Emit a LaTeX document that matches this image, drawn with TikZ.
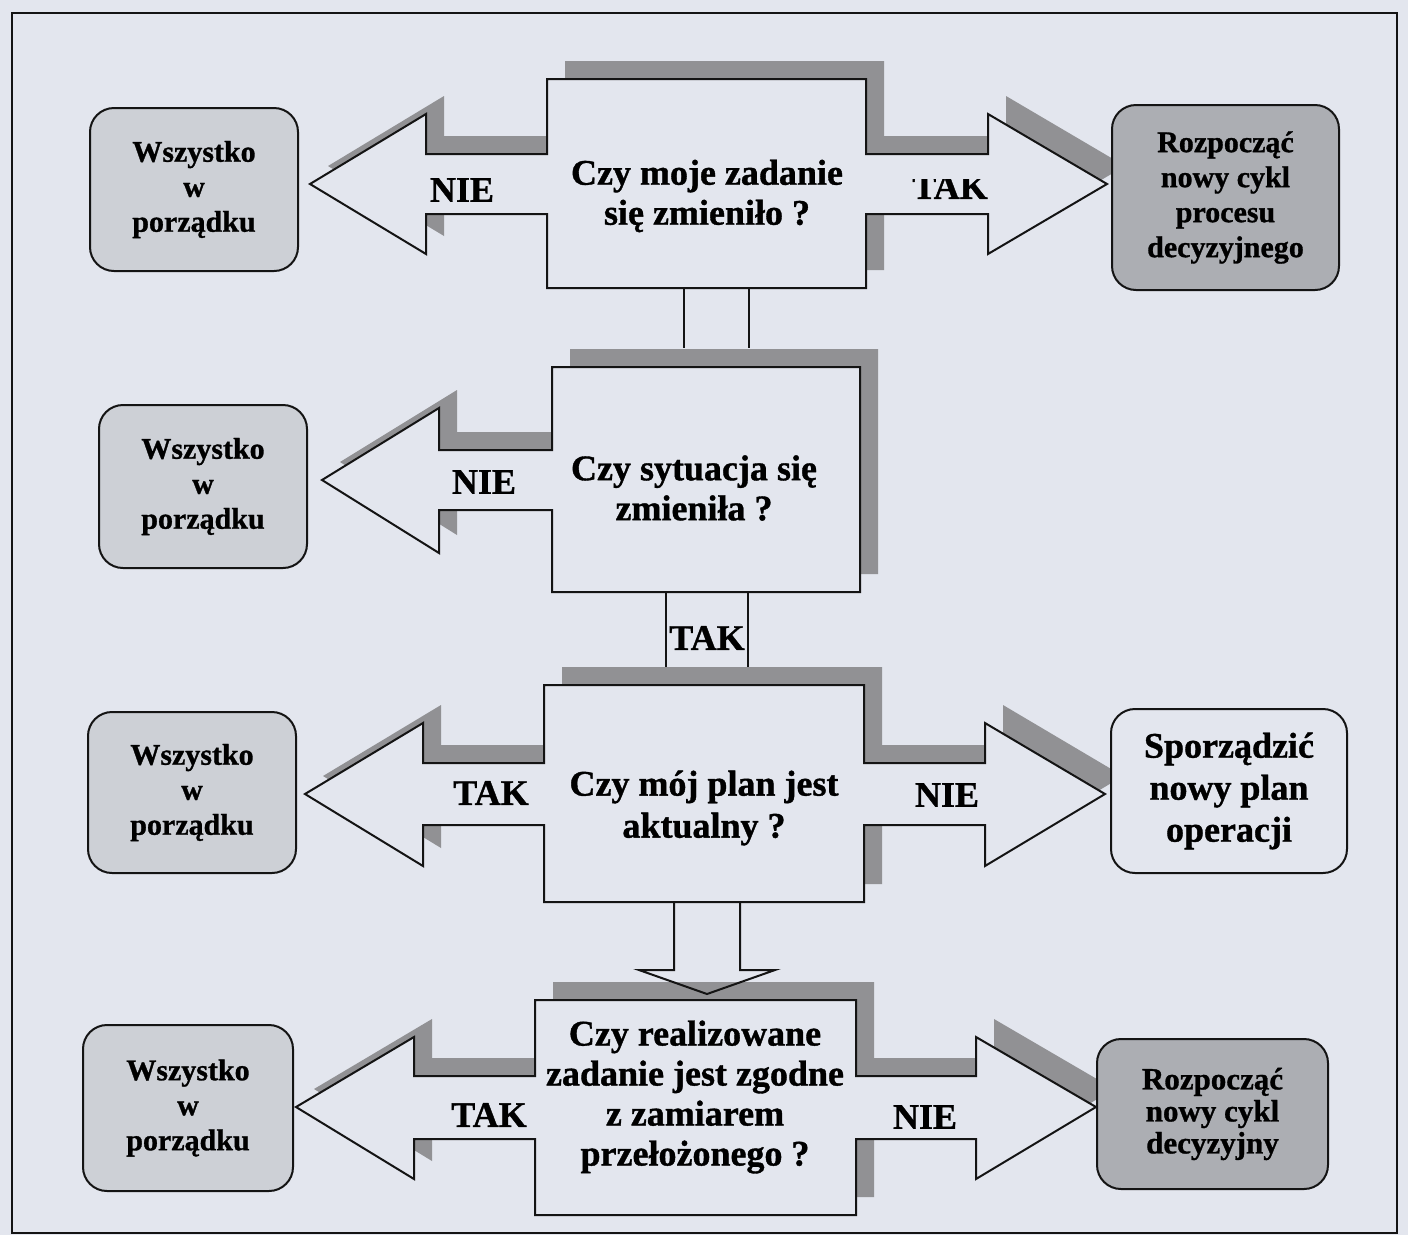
\documentclass[tikz,border=0pt]{standalone}
\usepackage{fontspec}
\setmainfont{Liberation Serif}[BoldFeatures={FakeBold=1}]
\begin{document}
\definecolor{paper}{RGB}{227,230,238}
\definecolor{ink}{RGB}{20,20,20}
\definecolor{shade}{RGB}{145,145,148}
\definecolor{okfill}{RGB}{205,208,214}
\definecolor{newfill}{RGB}{172,174,179}
\tikzset{
  shapeline/.style={draw=ink, line width=2pt, line join=miter, fill=paper},
  shadowfill/.style={fill=shade, shift={(18,-18)}},
  pipe/.style={draw=ink, line width=2pt},
  outcome/.style={draw=ink, line width=2pt, rounded corners=24pt, align=center,
    inner sep=0pt, font=\fontsize{30}{35}\selectfont\bfseries},
  question/.style={align=center, inner sep=0pt, font=\fontsize{36}{40}\selectfont\bfseries},
  answer/.style={inner sep=0pt, font=\fontsize{36}{40}\selectfont\bfseries},
}
% decision blocks: a box with block arrows
\newcommand\qone[1]{\path[#1] (547,79) -- (866,79) -- (866,154) -- (988,154) -- (988,114) -- (1107,184) -- (988,254) -- (988,214) -- (866,214) -- (866,288) -- (547,288) -- (547,214) -- (426,214) -- (426,254) -- (310,184) -- (426,114) -- (426,154) -- (547,154) -- cycle;}
\newcommand\qtwo[1]{\path[#1] (552,367) -- (860,367) -- (860,592) -- (552,592) -- (552,510) -- (439,510) -- (439,553) -- (322,480) -- (439,408) -- (439,450) -- (552,450) -- cycle;}
\newcommand\qthree[1]{\path[#1] (544,685) -- (864,685) -- (864,763) -- (985,763) -- (985,723) -- (1105,794) -- (985,866) -- (985,825) -- (864,825) -- (864,902) -- (544,902) -- (544,825) -- (423,825) -- (423,866) -- (305,794) -- (423,723) -- (423,763) -- (544,763) -- cycle;}
\newcommand\qfour[1]{\path[#1] (535,1000) -- (856,1000) -- (856,1076) -- (976,1076) -- (976,1037) -- (1096,1107) -- (976,1179) -- (976,1139) -- (856,1139) -- (856,1215) -- (535,1215) -- (535,1139) -- (414,1139) -- (414,1179) -- (296,1107) -- (414,1037) -- (414,1076) -- (535,1076) -- cycle;}
\begin{tikzpicture}[x=1pt, y=-1pt]
\useasboundingbox (0,0) rectangle (1408,1235);
\fill[paper] (0,0) rectangle (1408,1235);
\draw[ink, line width=2pt] (12,13) rectangle (1397,1233);

% pipes between the decision blocks
\coordinate (p1a) at (684,288); \coordinate (p1b) at (749,288);
\coordinate (p1c) at (684,348); \coordinate (p1d) at (749,348);
\coordinate (p2a) at (666,592); \coordinate (p2b) at (748,592);
\coordinate (p2c) at (666,667); \coordinate (p2d) at (748,667);
\draw[pipe] (p1a) -- (p1c); \draw[pipe] (p1b) -- (p1d);
\draw[pipe] (p2a) -- (p2c); \draw[pipe] (p2b) -- (p2d);

% shadows
\qone{shadowfill}
\qtwo{shadowfill}
\qthree{shadowfill}
\qfour{shadowfill}

% blocks
\qone{shapeline}
\qtwo{shapeline}
\qthree{shapeline}
\qfour{shapeline}

% downward block arrow into the last block
\coordinate (d1) at (674,902); \coordinate (d2) at (740,902);
\coordinate (dt) at (707,994);
\draw[ink, line width=2pt, line join=miter] (d1) -- (674,970) -- (639,970) -- (dt) -- (775,970) -- (740,970) -- (d2);

% outcomes
\node[outcome, fill=okfill, minimum width=208pt, minimum height=163pt] (ok1) at (194,189.5) {Wszystko\\w\\porządku};
\node[outcome, fill=okfill, minimum width=208pt, minimum height=163pt] (ok2) at (203,486.5) {Wszystko\\w\\porządku};
\node[outcome, fill=okfill, minimum width=208pt, minimum height=161pt] (ok3) at (192,792.5) {Wszystko\\w\\porządku};
\node[outcome, fill=okfill, minimum width=210pt, minimum height=166pt] (ok4) at (188,1108) {Wszystko\\w\\porządku};
\node[outcome, fill=newfill, minimum width=227pt, minimum height=185pt] (new1) at (1225.5,197.5) {Rozpocząć\\nowy cykl\\procesu\\decyzyjnego};
\node[outcome, fill=paper, minimum width=236pt, minimum height=164pt,
      font=\fontsize{36}{42}\selectfont\bfseries] (plan) at (1229,791) {Sporządzić\\nowy plan\\operacji};
\node[outcome, fill=newfill, minimum width=231pt, minimum height=150pt,
      font=\fontsize{31}{32}\selectfont\bfseries] (new2) at (1212.5,1114) {Rozpocząć\\nowy cykl\\decyzyjny};

% questions
\node[question] (q1) at (707,196) {Czy moje zadanie\\się zmieniło ?};
\node[question] (q2) at (694,488) {Czy sytuacja się\\zmieniła ?};
\node[question, font=\fontsize{36}{42}\selectfont\bfseries] (q3) at (704,808) {Czy mój plan jest\\aktualny ?};
\node[question] (q4) at (695,1097) {Czy realizowane\\zadanie jest zgodne\\z zamiarem\\przełożonego ?};

% answers
\node[answer] (a1l) at (462,190) {NIE};
\begin{scope}
  \clip (900,179) rectangle (1000,215);
  \node[answer] (a1r) at (950,187) {TAK};
\end{scope}
\node[answer] (a2l) at (484,482) {NIE};
\node[answer] (a2d) at (707,638) {TAK};
\node[answer] (a3l) at (491,793) {TAK};
\node[answer] (a3r) at (947,795) {NIE};
\node[answer] (a4l) at (489,1115) {TAK};
\node[answer] (a4r) at (925,1117) {NIE};
\end{tikzpicture}
\end{document}
